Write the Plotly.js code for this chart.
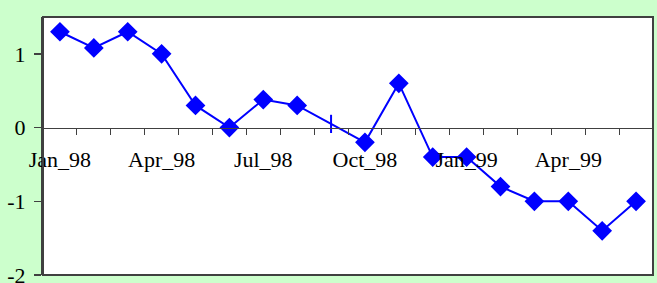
<!DOCTYPE html>
<html><head><meta charset="utf-8">
<script src="https://cdn.plot.ly/plotly-3.0.1.min.js"></script>
<style>html,body{margin:0;padding:0;background:#ccffcc;}#chart{width:657px;height:283px;}</style>
</head><body><div id="chart"></div>
<script>
const months = ['Jan_98','Feb_98','Mar_98','Apr_98','May_98','Jun_98','Jul_98','Aug_98','Sep_98','Oct_98','Nov_98','Dec_98','Jan_99','Feb_99','Mar_99','Apr_99','May_99','Jun_99'];
const values = [1.3, 1.08, 1.3, 1.0, 0.3, 0.0, 0.38, 0.3, 0.05, -0.2, 0.6, -0.4, -0.4, -0.8, -1.0, -1.0, -1.4, -1.0];
const tickLabels = ['Jan_98','','','Apr_98','','','Jul_98','','','Oct_98','','','Jan_99','','','Apr_99','',''];
const yTicks = [1, 0, -1, -2];

const symbols = months.map(m => m === 'Sep_98' ? 'line-ns' : 'diamond');
const sizes = months.map(m => m === 'Sep_98' ? 13 : 13);

const trace = {
  x: months, y: values, type: 'scatter', mode: 'lines+markers',
  line: {color: '#0000ff', width: 2},
  marker: {symbol: symbols, size: sizes, color: '#0000ff', opacity: 1, line: {color: '#0000ff', width: 2}},
  opacity: 1,
  hoverinfo: 'skip'
};

const font = {family: '"Liberation Serif", "Times New Roman", serif', size: 22, color: '#000'};
const layout = {
  width: 657, height: 283,
  margin: {l: 43, r: 4, t: 17, b: 8, pad: 0},
  paper_bgcolor: '#ccffcc', plot_bgcolor: '#ffffff',
  showlegend: false,
  font: font,
  xaxis: {
    type: 'category', categoryorder: 'array', categoryarray: months,
    tickvals: months, ticktext: tickLabels, tickson: 'boundaries',
    ticks: 'outside', ticklen: 6, tickwidth: 1, tickcolor: '#404040',
    showline: true, linecolor: '#404040', linewidth: 1.5,
    showgrid: false, zeroline: false, tickangle: 0,
    anchor: 'free', position: 2/3.5, ticklabelstandoff: 12,
    tickfont: font, range: [-0.5, 17.5], ticklabeloverflow: 'allow'
  },
  yaxis: {
    range: [-2, 1.5], tickvals: yTicks, ticktext: yTicks.map(String),
    ticks: 'outside', ticklen: 7, tickwidth: 1.5, tickcolor: '#404040',
    showline: true, linecolor: '#404040', linewidth: 2,
    showgrid: false, zeroline: false, tickfont: font, ticklabelstandoff: 4,
    ticklabeloverflow: 'allow'
  },
  shapes: [{type: 'rect', xref: 'paper', yref: 'paper', x0: 0, x1: 1, y0: 0, y1: 1,
            line: {color: '#404040', width: 2}, layer: 'above'}]
};
Plotly.newPlot('chart', [trace], layout, {staticPlot: true, displayModeBar: false});
</script></body></html>
